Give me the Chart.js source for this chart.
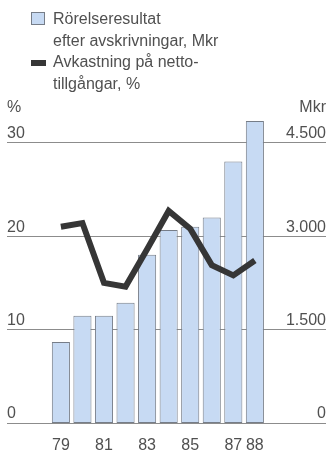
<!DOCTYPE html>
<html lang="sv">
<head>
<meta charset="UTF-8">
<title>Rörelseresultat och avkastning 1979–1988</title>
<script src="https://cdn.jsdelivr.net/npm/chart.js"></script>
<style>
    html, body { margin: 0; padding: 0; background: #fff; }
    .wrap {
        position: relative;
        width: 329px;
        height: 456px;
        font-family: 'Liberation Sans', Arial, sans-serif;
        color: #505050;
    }
    #chart { position: absolute; left: 0; top: 0; }
    /* legend sits over the empty top band of the canvas */
    .legend {
        position: absolute;
        left: 31px;
        top: 8px;
        font-size: 16px;
        line-height: 21.5px;
    }
    .legend-item { display: flex; align-items: flex-start; }
    .swatch { flex: none; width: 14px; margin-right: 8px; box-sizing: border-box; }
    .swatch.bar { height: 13px; margin-top: 4px; border: 1px solid #767d88; }
    .swatch.line { height: 6px; margin-top: 9px; width: 15px; margin-right: 7px; }
</style>
</head>
<body>

<div class="wrap">
    <canvas id="chart" width="329" height="456"></canvas>
    <div class="legend" id="legend"></div>
</div>

<script>
    // --- data ---
    const years = [1979, 1980, 1981, 1982, 1983, 1984, 1985, 1986, 1987, 1988];
    const xTickYears = [1979, 1981, 1983, 1985, 1987, 1988];
    // Rörelseresultat efter avskrivningar, Mkr (right axis)
    const rorelseresultat = [1300, 1720, 1720, 1930, 2700, 3100, 3150, 3300, 4200, 4850];
    // Avkastning på nettotillgångar, % (left axis)
    const avkastning = [21.0, 21.4, 15.0, 14.6, 18.6, 22.7, 20.8, 16.9, 15.8, 17.4];
    const pctTicks = [0, 10, 20, 30];
    const mkrTicks = [0, 1500, 3000, 4500];

    const barLabel = ['Rörelseresultat', 'efter avskrivningar, Mkr'];
    const lineLabel = ['Avkastning på netto-', 'tillgångar, %'];

    const textColor = '#505050';
    const font = { family: "'Liberation Sans', Arial, sans-serif", size: 16 };
    const pctMax = 33.5;
    const mkrPerPct = 150; // 30 % lines up with 4.500 Mkr

    const thousands = v => String(v).replace(/\B(?=(\d{3})+(?!\d))/g, '.');

    // unit captions above the two value axes
    const unitLabels = {
        id: 'unitLabels',
        afterDraw(chart, args, opts) {
            const { ctx, chartArea } = chart;
            ctx.save();
            ctx.font = `${font.size}px ${font.family}`;
            ctx.fillStyle = textColor;
            ctx.textBaseline = 'alphabetic';
            ctx.textAlign = 'left';
            ctx.fillText(opts.left, chartArea.left, chartArea.top + 2);
            ctx.textAlign = 'right';
            ctx.fillText(opts.right, chartArea.right, chartArea.top + 2);
            ctx.restore();
        }
    };

    const chart = new Chart(document.getElementById('chart'), {
        type: 'bar',
        data: {
            datasets: [
                {
                    type: 'bar',
                    label: barLabel,
                    data: years.map((y, i) => ({ x: y, y: rorelseresultat[i] })),
                    yAxisID: 'y1',
                    backgroundColor: '#c7daf3',
                    borderColor: '#767d88',
                    borderWidth: 1,
                    borderSkipped: false,
                    categoryPercentage: 1,
                    barPercentage: 0.84,
                    order: 1
                },
                {
                    type: 'line',
                    label: lineLabel,
                    data: years.map((y, i) => ({ x: y, y: avkastning[i] })),
                    yAxisID: 'y',
                    borderColor: '#363636',
                    backgroundColor: '#363636',
                    borderWidth: 6,
                    borderJoinStyle: 'miter',
                    borderCapStyle: 'butt',
                    pointRadius: 0,
                    tension: 0,
                    order: 0
                }
            ]
        },
        options: {
            responsive: false,
            animation: false,
            layout: { padding: { left: 7, right: 3, top: 110, bottom: 0 } },
            scales: {
                x: {
                    type: 'linear',
                    offset: false,
                    min: 1976.5,
                    max: 1991.3,
                    afterBuildTicks: s => { s.ticks = xTickYears.map(v => ({ value: v })); },
                    afterFit: s => { s.height = 33; },
                    grid: { display: false, drawTicks: false, offset: false },
                    border: { display: false },
                    ticks: {
                        color: textColor,
                        font: font,
                        padding: 13,
                        maxRotation: 0,
                        autoSkip: false,
                        callback: v => String(v).slice(2)
                    }
                },
                y: {
                    position: 'left',
                    min: 0,
                    max: pctMax,
                    afterBuildTicks: s => { s.ticks = pctTicks.map(v => ({ value: v })); },
                    grid: { color: '#8c8c8c', lineWidth: 1, drawTicks: false },
                    border: { display: false },
                    ticks: { mirror: true, padding: 0, labelOffset: -9, color: textColor, font: font }
                },
                y1: {
                    position: 'right',
                    min: 0,
                    max: pctMax * mkrPerPct,
                    afterBuildTicks: s => { s.ticks = mkrTicks.map(v => ({ value: v })); },
                    grid: { display: false, drawTicks: false },
                    border: { display: false },
                    ticks: {
                        mirror: true, padding: 0, labelOffset: -9, color: textColor, font: font,
                        callback: v => thousands(v)
                    }
                }
            },
            plugins: {
                legend: { display: false },
                tooltip: { enabled: false },
                unitLabels: { left: '%', right: 'Mkr' }
            }
        },
        plugins: [unitLabels]
    });

    // HTML legend built from the datasets
    const legendEl = document.getElementById('legend');
    chart.data.datasets.forEach(ds => {
        const item = document.createElement('div');
        item.className = 'legend-item';
        const sw = document.createElement('span');
        sw.className = 'swatch ' + ds.type;
        sw.style.background = ds.backgroundColor;
        const txt = document.createElement('span');
        txt.innerHTML = ds.label.join('<br>');
        item.appendChild(sw);
        item.appendChild(txt);
        legendEl.appendChild(item);
    });
</script>

</body>
</html>
